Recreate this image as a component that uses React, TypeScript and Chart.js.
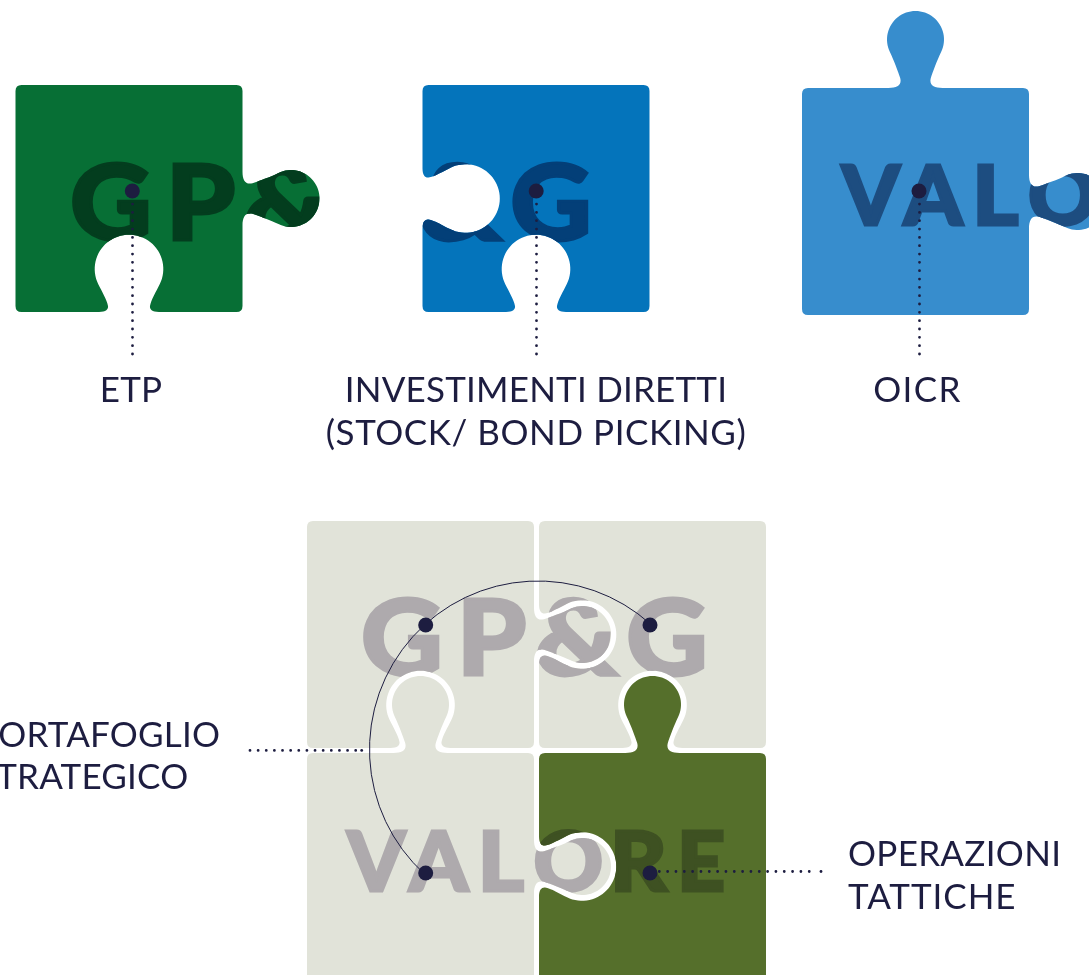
import React, { useEffect, useRef } from "react";
import { Chart, registerables } from "chart.js";

Chart.register(...registerables);

// ---- data ----
const pieceNames = ["GP&G top", "GP&G bottom-notch", "VALORE top", "A", "B", "C", "D"];
const pieceX = [15.5, 422.5, 802, 307, 539, 307, 539];
const pieceY = [85, 85, 88, 521, 521, 753, 753];
const pieceTop = ["", "", "tab", "", "", "tab", "tab"];
const pieceRight = ["tab", "", "tab", "tab", "", "tab", ""];
const pieceBottom = ["notch", "notch", "", "notch", "notch", "", ""];
const pieceLeft = ["", "notch", "", "", "notch", "", "notch"];
const pieceFill = ["#076f35", "#0474bb", "#378dcd", "#e1e3d9", "#e1e3d9", "#e1e3d9", "#556f2b"];
const pieceInk = ["#033d1e", "#033f78", "#1d4d80", "#aeaaad", "#aeaaad", "#aeaaad", "#3e5122"];
const pieceWord = ["GP&G", "GP&G", "VALORE", "GP&G", "GP&G", "VALORE", "VALORE"];
const wordShiftX = [-291, -116, 494.5, 0, 0, 0, 0];
const wordBase = [241, 241, 226.7, 676.7, 676.7, 892, 892];

const gpgLetters = ["G", "P", "&", "G"];
const gpgLeft = [362.7, 462.7, 536.7, 628];
const gpgRight = [440, 526, 620, 705];
const valoreLetters = ["V", "A", "L", "O", "R", "E"];
const valoreLeft = [344.7, 406.7, 482.7, 534, 615, 681.7];
const valoreRight = [408, 470.7, 525, 601.7, 670, 724];

const dotX = [132.3, 536.2, 919, 425.7, 650, 425.7, 650];
const dotY = [191, 191, 191, 625, 625, 873, 873];

const leaderA = [{ x: 132.5, y: 354 }, { x: 132.5, y: 191 }];
const leaderB = [{ x: 536.5, y: 354 }, { x: 536.5, y: 191 }];
const leaderC = [{ x: 919.5, y: 354 }, { x: 919.5, y: 191 }];
const leaderD = [{ x: 250, y: 750.4 }, { x: 358, y: 750.4 }];
const leaderDEnd = [{ x: 361.7, y: 750.4 }, { x: 361.8, y: 750.4 }];
const leaderE = [{ x: 659.3, y: 871.5 }, { x: 811, y: 871.5 }];
const leaderEEnd = [{ x: 821, y: 871.5 }, { x: 821.1, y: 871.5 }];

const labelText = ["ETP", "INVESTIMENTI DIRETTI", "(STOCK/ BOND PICKING)", "OICR", "PORTAFOGLIO", "STRATEGICO", "OPERAZIONI", "TATTICHE"];
const labelX = [131, 536, 536, 917.5, -23, -23, 848, 848];
const labelY = [402, 402, 445, 402, 747, 789, 866, 909];
const labelAlign = ["center", "center", "center", "center", "left", "left", "left", "left"];
const labelSpacing = [0.2, 0.2, 0.55, 1.4, 0.2, 0.2, 0.3, 0.95];

const arcCentre = { x: 538, y: 749.5, r: 168.5 };
const arcEnds = [{ x: 650, y: 625 }, { x: 425.7, y: 873 }];

const INK = "#1d1d40";
const SIDE = 227;
const CORNER = 6;
const HEAVY = 3;

// ---- outline of one jigsaw piece ----
type P = { x: number; y: number };
function feature(path: Path2D, mid: P, d: P, out: P, kind: string) {
  const tab = kind === "tab";
  const s = tab ? 1 : -1;
  const at = (t: number, n: number): P => ({
    x: mid.x + t * d.x + s * n * out.x,
    y: mid.y + t * d.y + s * n * out.y,
  });
  const half = tab
    ? { start: -27, neck: [-15.3, 10], c0: [-18, 0], c1: [-13.5, 3], c2: [-17, 15], c3: [-22, 28.8], join: [-25.6, 36], cn: 48.5, r: 28.5 }
    : { start: -30, neck: [-21, 6], c0: [-23, 0], c1: [-20.5, 3], c2: [-22, 12], c3: [-27.3, 20.8], join: [-30.8, 28], cn: 43, r: 34.3 };
  const bez = (a: number[], b: number[], c: number[], m: number) => {
    const pa = at(a[0] * m, a[1]), pb = at(b[0] * m, b[1]), pc = at(c[0] * m, c[1]);
    path.bezierCurveTo(pa.x, pa.y, pb.x, pb.y, pc.x, pc.y);
  };
  const p0 = at(half.start, 0);
  path.lineTo(p0.x, p0.y);
  bez(half.c0, half.c1, half.neck, 1);
  bez(half.c2, half.c3, half.join, 1);
  const a0 = Math.atan2(half.join[1] - half.cn, half.join[0]);
  const a1 = Math.atan2(half.join[1] - half.cn, -half.join[0]);
  let to = a1;
  if (to > a0) to -= Math.PI * 2;
  const N = 48;
  for (let i = 1; i <= N; i++) {
    const a = a0 + ((to - a0) * i) / N;
    const q = at(half.r * Math.cos(a), half.cn + half.r * Math.sin(a));
    path.lineTo(q.x, q.y);
  }
  bez(half.c3, half.c2, half.neck, -1);
  bez(half.c1, half.c0, [half.start, 0], -1);
}

function piecePath(px: number, py: number, w: number, top: string, right: string, bottom: string, left: string): Path2D {
  const p = new Path2D();
  const c = CORNER;
  p.moveTo(px + c, py);
  if (top) feature(p, { x: px + w / 2, y: py }, { x: 1, y: 0 }, { x: 0, y: -1 }, top);
  p.lineTo(px + w - c, py);
  p.quadraticCurveTo(px + w, py, px + w, py + c);
  if (right) feature(p, { x: px + w, y: py + w / 2 }, { x: 0, y: 1 }, { x: 1, y: 0 }, right);
  p.lineTo(px + w, py + w - c);
  p.quadraticCurveTo(px + w, py + w, px + w - c, py + w);
  if (bottom) feature(p, { x: px + w / 2, y: py + w }, { x: -1, y: 0 }, { x: 0, y: 1 }, bottom);
  p.lineTo(px + c, py + w);
  p.quadraticCurveTo(px, py + w, px, py + w - c);
  if (left) feature(p, { x: px, y: py + w / 2 }, { x: 0, y: -1 }, { x: -1, y: 0 }, left);
  p.lineTo(px, py + c);
  p.quadraticCurveTo(px, py, px + c, py);
  p.closePath();
  return p;
}

function drawWord(ctx: CanvasRenderingContext2D, word: string, shift: number, base: number, ink: string) {
  const isValore = word === "VALORE";
  const letters = isValore ? valoreLetters : gpgLetters;
  const lefts = isValore ? valoreLeft : gpgLeft;
  const rights = isValore ? valoreRight : gpgRight;
  ctx.font = isValore ? "900 81px Lato" : "900 105px Lato";
  ctx.textAlign = "left";
  ctx.textBaseline = "alphabetic";
  ctx.fillStyle = ink;
  ctx.strokeStyle = ink;
  ctx.lineWidth = HEAVY;
  ctx.lineJoin = "miter";
  letters.forEach((ch, i) => {
    const m = ctx.measureText(ch);
    const glyph = m.actualBoundingBoxRight + m.actualBoundingBoxLeft;
    const sx = (rights[i] - lefts[i] - HEAVY) / glyph;
    ctx.save();
    ctx.translate(shift + lefts[i] + HEAVY / 2 + m.actualBoundingBoxLeft * sx, base - HEAVY / 2);
    ctx.scale(sx, 1);
    ctx.fillText(ch, 0, 0);
    ctx.strokeText(ch, 0, 0);
    ctx.restore();
  });
}

const puzzlePlugin = {
  id: "puzzle",
  beforeDatasetsDraw(chart: any) {
    const { ctx, scales } = chart;
    const sx = scales.x, sy = scales.y;
    pieceNames.forEach((_, i) => {
      const path = piecePath(
        sx.getPixelForValue(pieceX[i]),
        sy.getPixelForValue(pieceY[i]),
        SIDE,
        pieceTop[i], pieceRight[i], pieceBottom[i], pieceLeft[i]
      );
      ctx.save();
      ctx.fillStyle = pieceFill[i];
      ctx.fill(path);
      ctx.clip(path);
      drawWord(ctx, pieceWord[i], wordShiftX[i], sy.getPixelForValue(wordBase[i]), pieceInk[i]);
      ctx.restore();
    });
    const cx = sx.getPixelForValue(arcCentre.x), cy = sy.getPixelForValue(arcCentre.y);
    const a0 = Math.atan2(arcEnds[0].y - arcCentre.y, arcEnds[0].x - arcCentre.x);
    const a1 = Math.atan2(arcEnds[1].y - arcCentre.y, arcEnds[1].x - arcCentre.x);
    ctx.save();
    ctx.strokeStyle = INK;
    ctx.lineWidth = 1;
    ctx.beginPath();
    ctx.arc(cx, cy, arcCentre.r, a0, a1, true);
    ctx.stroke();
    ctx.restore();
  },
  afterDatasetsDraw(chart: any) {
    const { ctx, scales } = chart;
    ctx.save();
    ctx.fillStyle = INK;
    ctx.font = "400 35px Lato";
    ctx.textBaseline = "alphabetic";
    labelText.forEach((t, i) => {
      (ctx as any).letterSpacing = `${labelSpacing[i]}px`;
      ctx.textAlign = labelAlign[i] as CanvasTextAlign;
      ctx.fillText(t, scales.x.getPixelForValue(labelX[i]), scales.y.getPixelForValue(labelY[i]));
    });
    ctx.restore();
  },
};

const leaderDataset = (data: P[], gap = 8.33) => ({
  type: "line" as const,
  data,
  showLine: true,
  borderColor: INK,
  borderWidth: 2.8,
  borderDash: [0, gap],
  borderCapStyle: "round" as const,
  pointRadius: 0,
  fill: false,
  tension: 0,
  order: 2,
});

export default function App() {
  const ref = useRef<HTMLCanvasElement>(null);
  useEffect(() => {
    if (!ref.current) return;
    const chart = new Chart(ref.current, {
      type: "scatter",
      data: {
        datasets: [
          {
            label: "dots",
            data: dotX.map((x, i) => ({ x, y: dotY[i] })),
            backgroundColor: INK,
            borderWidth: 0,
            pointRadius: 7.5,
            order: 1,
          },
          leaderDataset(leaderA),
          leaderDataset(leaderB),
          leaderDataset(leaderC),
          leaderDataset(leaderD, 8.13),
          leaderDataset(leaderDEnd),
          leaderDataset(leaderE),
          leaderDataset(leaderEEnd),
        ] as any,
      },
      options: {
        animation: false,
        responsive: false,
        layout: { padding: 0, autoPadding: false },
        plugins: { legend: { display: false }, tooltip: { enabled: false } },
        scales: {
          x: { type: "linear", min: 0, max: 1089, display: false },
          y: { type: "linear", min: 0, max: 975, reverse: true, display: false },
        },
      },
      plugins: [puzzlePlugin],
    });
    return () => chart.destroy();
  }, []);
  return (
    <canvas
      ref={ref}
      width={1089}
      height={975}
      style={{ position: "fixed", left: 0, top: 0, width: 1089, height: 975, display: "block" }}
    />
  );
}
